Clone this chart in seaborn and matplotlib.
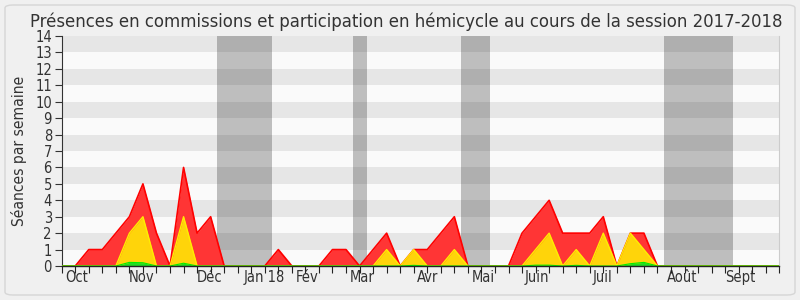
import numpy as np
import pandas as pd
import matplotlib
matplotlib.use("Agg")
import matplotlib.pyplot as plt
from matplotlib.patches import FancyBboxPatch
import seaborn as sns

# ---- data (weekly, session 2017-2018) ----
weeks = list(range(54))
commission = [0, 0, 1, 1, 2, 3, 5, 2, 0, 6, 2, 3, 0, 0, 0, 0, 1, 0, 0, 0,
              1, 1, 0, 1, 2, 0, 1, 1, 2, 3, 0, 0, 0, 0, 2, 3, 4, 2, 2, 2,
              3, 0, 2, 2, 0, 0, 0, 0, 0, 0, 0, 0, 0, 0]
hemicycle = [0, 0, 0, 0, 0, 2, 3, 0, 0, 3, 0, 0, 0, 0, 0, 0, 0, 0, 0, 0,
             0, 0, 0, 0, 1, 0, 1, 0, 0, 1, 0, 0, 0, 0, 0, 1, 2, 0, 1, 0,
             2, 0, 2, 1, 0, 0, 0, 0, 0, 0, 0, 0, 0, 0]
interventions = [0, 0, 0, 0, 0, 0.22, 0.2, 0, 0, 0.17, 0, 0, 0, 0, 0, 0, 0, 0, 0, 0,
                 0, 0, 0, 0, 0, 0, 0.04, 0, 0, 0, 0, 0, 0, 0, 0, 0.05, 0.05, 0, 0.04, 0,
                 0, 0, 0.14, 0.22, 0, 0, 0, 0, 0, 0, 0, 0, 0, 0]
vacances_debut = [11.5, 21.5, 29.5, 44.5]
vacances_fin = [15.5, 22.55, 31.6, 49.6]
mois = ["Oct", "Nov", "Déc", "Jan 18", "Fév", "Mar", "Avr", "Mai", "Juin", "Juil", "Août", "Sept"]
mois_pos = [1.13, 5.93, 10.92, 14.95, 18.12, 22.19, 27.04, 31.17, 35.09, 39.97, 45.81, 50.1]
y_ticks = list(range(15))

df = pd.DataFrame({"semaine": weeks, "commission": commission,
                   "hemicycle": hemicycle, "interventions": interventions})

sns.set_theme(style="white")
plt.rcParams["font.family"] = ["DejaVu Sans"]
plt.rcParams["font.stretch"] = "condensed"

fig = plt.figure(figsize=(8, 3), dpi=100)
fig.patch.set_facecolor("#f0f0f0")
fig.patches.append(FancyBboxPatch((5 / 800, 5 / 300), 790 / 800, 290 / 300,
                                  boxstyle="round,pad=0,rounding_size=0.01",
                                  transform=fig.transFigure, facecolor="none",
                                  edgecolor="#d6d6d6", linewidth=1.0))

ax = fig.add_axes([61.7 / 800, 1 - 266 / 300, (779.3 - 61.7) / 800, 230 / 300])
ax.set_facecolor("#fafafa")
for k in range(1, 14, 2):
    ax.axhspan(k, k + 1, color="#e6e6e6", lw=0, zorder=0)
for a, b in zip(vacances_debut, vacances_fin):
    ax.axvspan(a, b, color="black", alpha=0.24, lw=0, zorder=1)

ax.fill_between(df["semaine"], df["commission"], color="#ff3535", lw=0, zorder=2)
sns.lineplot(data=df, x="semaine", y="commission", ax=ax, color="#ff0000", lw=1.2, zorder=3)
ax.fill_between(df["semaine"], df["hemicycle"], color="#ffd40a", lw=0, zorder=4)
sns.lineplot(data=df, x="semaine", y="hemicycle", ax=ax, color="#ffee00", lw=1.0, zorder=5)
ax.fill_between(df["semaine"], df["interventions"], color="#22dd22", lw=0, zorder=6)
sns.lineplot(data=df, x="semaine", y="interventions", ax=ax, color="#00ee00", lw=0.8, zorder=7)

ax.set_xlim(0, 53)
ax.set_ylim(0, 14)
ax.set_xlabel("")
ax.set_ylabel("Séances par semaine", fontsize=11.2, color="#333333", labelpad=6)

ax.set_yticks(y_ticks)
ax.set_yticklabels([str(v) for v in y_ticks], fontsize=10.5, color="#333333")
ax.tick_params(axis="y", which="major", direction="out", length=5, width=0.8,
               color="#333333", pad=2, left=True)

ax.set_xticks(weeks, minor=True)
ax.set_xticks(mois_pos)
ax.set_xticklabels(mois, fontsize=10.5, color="#333333")
ax.tick_params(axis="x", which="major", length=0, pad=3)
ax.tick_params(axis="x", which="minor", direction="out", length=5, width=0.8,
               color="#222222", bottom=True)

ax.spines["top"].set_visible(False)
ax.spines["right"].set_color("#cccccc")
ax.spines["right"].set_linewidth(0.8)
ax.spines["left"].set_color("#333333")
ax.spines["left"].set_linewidth(0.8)
ax.spines["bottom"].set_color("#222222")
ax.spines["bottom"].set_linewidth(1.0)
ax.spines["bottom"].set_zorder(10)
if ax.get_legend() is not None:
    ax.get_legend().remove()

fig.text(406.5 / 800, 1 - 27 / 300,
         "Présences en commissions et participation en hémicycle au cours de la session 2017-2018",
         ha="center", va="baseline", fontsize=13.2, color="#333333")

fig.savefig("out.png", dpi=100, facecolor=fig.get_facecolor())
